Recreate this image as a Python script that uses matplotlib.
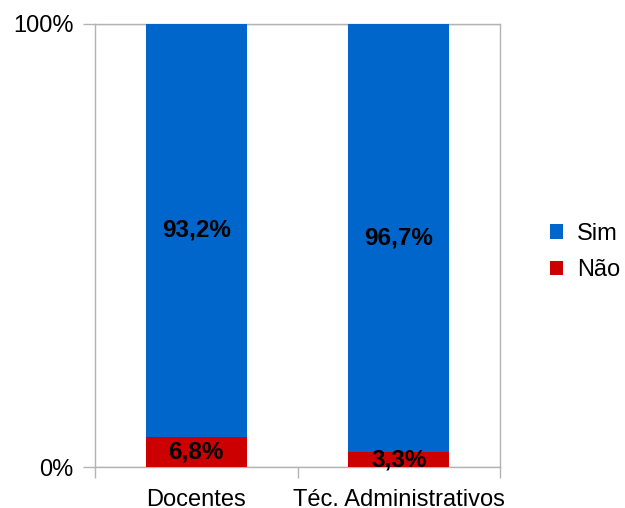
import matplotlib
matplotlib.use("Agg")
import matplotlib.pyplot as plt
from matplotlib.patches import Patch
from matplotlib.ticker import FixedLocator

categories = ["Docentes", "Téc. Administrativos"]
sim = [93.2, 96.7]
nao = [6.8, 3.3]
series_names = ["Sim", "Não"]
y_tick_values = [0, 100]
y_tick_labels = ["0%", "100%"]

blue = "#0066cc"
red = "#cc0000"
grid = "#b3b3b3"

plt.rcParams["font.family"] = ["Liberation Sans", "DejaVu Sans"]

fig = plt.figure(figsize=(6.25, 5.08), dpi=100)
ax = fig.add_axes([95 / 625, 41 / 508, 405 / 625, 443 / 508])

x = list(range(len(categories)))
ax.bar(x, nao, width=0.5, color=red, zorder=3)
ax.bar(x, sim, width=0.5, bottom=nao, color=blue, zorder=3)

def fmt(v):
    return f"{v:.1f}%".replace(".", ",")

for i in x:
    ax.text(i, nao[i] / 2, fmt(nao[i]), ha="center", va="center",
            fontsize=17.5, fontweight="bold", color="black", zorder=4)
    ax.text(i, nao[i] + sim[i] / 2, fmt(sim[i]), ha="center", va="center",
            fontsize=17.5, fontweight="bold", color="black", zorder=4)

ax.set_xlim(-0.5, len(categories) - 0.5)
ax.set_ylim(0, 100)
ax.set_yticks(y_tick_values)
ax.set_yticklabels(y_tick_labels, fontsize=17)
ax.yaxis.grid(True, color=grid, linewidth=1, zorder=0)

ax.set_xticks(x)
ax.set_xticklabels(categories, fontsize=17)
ax.xaxis.set_minor_locator(FixedLocator([-0.5, 0.5, 1.5]))
ax.tick_params(axis="x", which="major", length=0, pad=16)
ax.tick_params(axis="x", which="minor", length=8, color=grid, width=1)
ax.tick_params(axis="y", length=8.5, color=grid, width=1, pad=7)

for s in ax.spines.values():
    s.set_color(grid)
    s.set_linewidth(1)

handles = [Patch(facecolor=blue, label=series_names[0]),
           Patch(facecolor=red, label=series_names[1])]
fig.legend(handles=handles, loc="center left", bbox_to_anchor=(550 / 625, 1 - 252 / 508),
           frameon=False, fontsize=17, handlelength=0.55, handleheight=0.55,
           handletextpad=0.6, labelspacing=0.6, borderaxespad=0, borderpad=0)

fig.savefig("out.png", dpi=100)
